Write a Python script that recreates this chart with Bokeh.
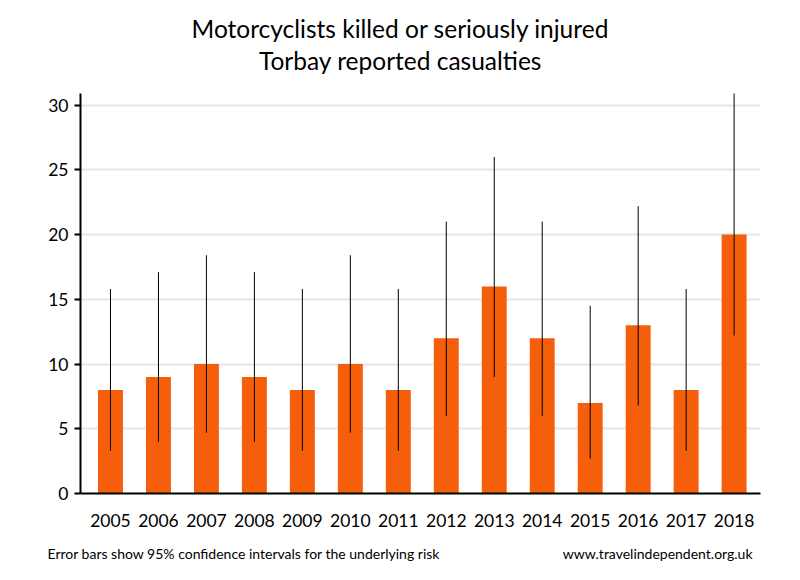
from bokeh.plotting import figure
from bokeh.models import Label, Range1d, FixedTicker
from bokeh.embed import file_html
from bokeh.resources import INLINE

years = [2005, 2006, 2007, 2008, 2009, 2010, 2011, 2012, 2013, 2014, 2015, 2016, 2017, 2018]
casualties = [8, 9, 10, 9, 8, 10, 8, 12, 16, 12, 7, 13, 8, 20]
ci_low = [3.3, 4.0, 4.7, 4.0, 3.3, 4.7, 3.3, 6.0, 9.0, 6.0, 2.7, 6.8, 3.3, 12.2]
ci_high = [15.8, 17.1, 18.4, 17.1, 15.8, 18.4, 15.8, 21.0, 26.0, 21.0, 14.5, 22.2, 15.8, 31.4]
y_ticks = [0, 5, 10, 15, 20, 25, 30]

title1 = "Motorcyclists killed or seriously injured"
title2 = "Torbay reported casualties"
note_left = "Error bars show 95% confidence intervals for the underlying risk"
note_right = "www.travelindependent.org.uk"

FONT = "Lato"
W = 784
FL, FR = 80, 760

# ---- title strip (own root, so its frame spans the whole width) ----
top = figure(width=W, height=80, output_backend="svg", toolbar_location=None,
             x_range=Range1d(0, W), y_range=Range1d(80, 0),
             x_axis_type=None, y_axis_type=None,
             min_border_left=0, min_border_right=0, min_border_top=0, min_border_bottom=0)
top.outline_line_color = None
for txt, yy in [(title1, 28), (title2, 60)]:
    top.add_layout(Label(x=400, y=yy, text=txt, text_font=FONT, text_font_size="24.5px",
                         text_align="center", text_baseline="middle", text_color="black"))

# ---- main chart ----
p = figure(width=W, height=453, output_backend="svg", toolbar_location=None,
           x_range=Range1d(2004.375, 2018.55), y_range=Range1d(0, 30.9),
           min_border_left=FL, min_border_right=W - FR, min_border_top=13, min_border_bottom=40)
p.outline_line_color = None

p.vbar(x=years, top=casualties, width=0.52, color="#F55F0C", line_color=None)
p.segment(x0=years, y0=ci_low, x1=years, y1=ci_high, line_color="black", line_width=1)

p.yaxis.ticker = FixedTicker(ticks=y_ticks)
p.yaxis.axis_line_width = 2
p.yaxis.axis_line_color = "black"
p.yaxis.major_tick_line_width = 2
p.yaxis.major_tick_in = 0
p.yaxis.major_tick_out = 6
p.yaxis.minor_tick_line_color = None
p.yaxis.major_label_text_font = FONT
p.yaxis.major_label_text_font_size = "17.5px"
p.yaxis.major_label_text_color = "black"
p.yaxis.major_label_standoff = 6

p.xaxis.ticker = FixedTicker(ticks=years)
p.xaxis.axis_line_width = 2
p.xaxis.axis_line_color = "black"
p.xaxis.major_tick_line_color = None
p.xaxis.minor_tick_line_color = None
p.xaxis.major_label_text_font = FONT
p.xaxis.major_label_text_font_size = "17.5px"
p.xaxis.major_label_text_color = "black"
p.xaxis.major_label_standoff = 14

p.xgrid.grid_line_color = None
p.ygrid.grid_line_color = "#e6e6e6"
p.ygrid.grid_line_width = 2

# ---- footer strip (own root) ----
foot = figure(width=W, height=31, output_backend="svg", toolbar_location=None,
              x_range=Range1d(0, W), y_range=Range1d(31, 0),
              x_axis_type=None, y_axis_type=None,
              min_border_left=0, min_border_right=0, min_border_top=0, min_border_bottom=0)
foot.outline_line_color = None
foot.add_layout(Label(x=47, y=20, text=note_left, text_font=FONT, text_font_size="14px",
                      text_align="left", text_baseline="middle", text_color="black"))
foot.add_layout(Label(x=752, y=20, text=note_right, text_font=FONT, text_font_size="14px",
                      text_align="right", text_baseline="middle", text_color="black"))

open("out.html", "w").write(file_html([top, p, foot], INLINE))
